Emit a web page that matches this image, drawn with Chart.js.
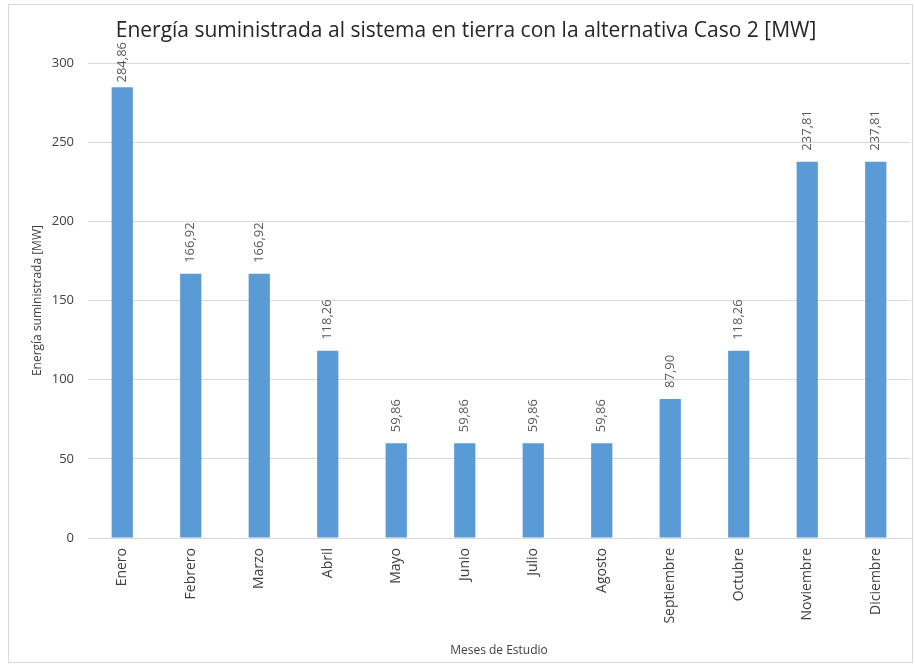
<!DOCTYPE html>
<html>
<head>
<meta charset="utf-8">
<script src="https://cdn.jsdelivr.net/npm/chart.js@4.4.1/dist/chart.umd.min.js"></script>
<style>
  html, body { margin: 0; padding: 0; background: #fff; }
  #wrap { position: relative; width: 915px; height: 666px; }
  #frame { position: absolute; left: 8px; top: 4px; width: 903px; height: 657px; border: 1px solid #d9d9d9; }
  #energia-chart { position: absolute; left: 0; top: 0; }
</style>
</head>
<body>
<div id="wrap">
  <div id="frame"></div>
  <canvas id="energia-chart" width="915" height="666"></canvas>
</div>
<script>
// Meses y energía entregada (MW)
const meses = ['Enero', 'Febrero', 'Marzo', 'Abril', 'Mayo', 'Junio', 'Julio', 'Agosto', 'Septiembre', 'Octubre', 'Noviembre', 'Diciembre'];
const energiaMW = [284.86, 166.92, 166.92, 118.26, 59.86, 59.86, 59.86, 59.86, 87.90, 118.26, 237.81, 237.81];
const ticksY = [0, 50, 100, 150, 200, 250, 300];

const FUENTE = "'Open Sans', 'Noto Sans', sans-serif";

// Etiquetas de valor giradas encima de cada barra
const etiquetasValor = {
    id: 'etiquetasValor',
    afterDatasetsDraw(chart) {
        const ctx = chart.ctx;
        const meta = chart.getDatasetMeta(0);
        ctx.save();
        ctx.font = '13px ' + FUENTE;
        ctx.fillStyle = '#595959';
        ctx.textAlign = 'left';
        ctx.textBaseline = 'middle';
        meta.data.forEach((bar, i) => {
            const texto = energiaMW[i].toFixed(2).replace('.', ',');
            const ancho = ctx.measureText(texto).width;
            let y = bar.y - 11;
            // no salir por encima del área del gráfico
            if (y - ancho < 42) {
                y = 42 + ancho;
            }
            ctx.save();
            ctx.translate(bar.x, y);
            ctx.rotate(-Math.PI / 2);
            ctx.fillText(texto, 0, 0);
            ctx.restore();
        });
        ctx.restore();
    }
};

const ctx = document.getElementById('energia-chart').getContext('2d');
const chart = new Chart(ctx, {
    type: 'bar',
    data: {
        labels: meses,
        datasets: [{
            label: 'Energía suministrada',
            data: energiaMW,
            backgroundColor: '#5b9bd5',
            borderWidth: 0,
            barPercentage: 0.31,
            categoryPercentage: 1
        }]
    },
    options: {
        responsive: false,
        animation: false,
        layout: {
            padding: { left: 22, right: 5, top: 0, bottom: 0 }
        },
        plugins: {
            legend: { display: false },
            tooltip: { enabled: false },
            title: {
                display: true,
                text: 'Energía suministrada al sistema en tierra con la alternativa Caso 2 [MW]',
                color: '#262626',
                font: { family: FUENTE, size: 21, weight: 'normal' },
                padding: { top: 18, bottom: 20 }
            }
        },
        scales: {
            x: {
                grid: { display: false, drawTicks: false },
                border: { color: '#d9d9d9' },
                ticks: {
                    color: '#404040',
                    font: { family: FUENTE, size: 14 },
                    minRotation: 90,
                    maxRotation: 90,
                    padding: 10
                },
                title: {
                    display: true,
                    text: 'Meses de Estudio',
                    color: '#404040',
                    font: { family: FUENTE, size: 12 },
                    padding: { top: 0, bottom: 8 }
                },
                afterFit(scale) {
                    scale.height = 128;
                }
            },
            y: {
                min: 0,
                max: 300,
                afterBuildTicks(scale) {
                    scale.ticks = ticksY.map(v => ({ value: v }));
                },
                grid: { color: '#d9d9d9', drawTicks: false },
                border: { display: false },
                ticks: {
                    color: '#404040',
                    font: { family: FUENTE, size: 13 },
                    padding: 14
                },
                title: {
                    display: true,
                    text: 'Energía suministrada [MW]',
                    color: '#404040',
                    font: { family: FUENTE, size: 12 },
                    padding: { top: 8, bottom: 0 }
                },
                afterFit(scale) {
                    scale.width = 66;
                }
            }
        }
    },
    plugins: [etiquetasValor]
});
</script>
</body>
</html>
